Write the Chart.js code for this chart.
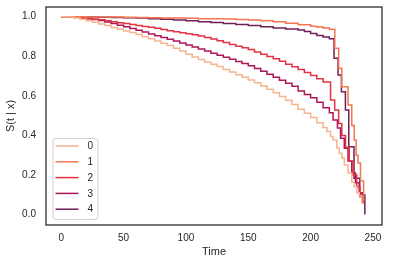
<!DOCTYPE html>
<html lang="en">
<head>
  <meta charset="UTF-8">
  <title>Survival curves S(t | x)</title>
  <script src="https://cdn.jsdelivr.net/npm/chart.js"></script>
  <style>
    body { margin: 0; background: #fff; }
    canvas { display: block; }
  </style>
</head>
<body>

  <canvas id="survChart" width="394" height="265"></canvas>

  <script>
    // step-post survival curves, one time/value pair of arrays per group
    const times0 = [0,5,10,15,20,25,30,35,40,45,50,55,60,65,70,75,80,85,90,95,100,105,110,115,120,125,130,135,140,145,150,155,160,165,170,175,180,185,190,195,200,205,210,213,216,218,221,223,225,227,230,233,235,237,239,241,242];
    const surv0  = [1.000,0.998,0.993,0.987,0.980,0.972,0.963,0.955,0.946,0.937,0.928,0.920,0.910,0.898,0.888,0.877,0.866,0.855,0.840,0.826,0.810,0.796,0.783,0.771,0.760,0.748,0.733,0.720,0.707,0.694,0.680,0.666,0.650,0.633,0.615,0.597,0.577,0.556,0.532,0.512,0.490,0.464,0.440,0.420,0.395,0.377,0.336,0.310,0.286,0.250,0.210,0.164,0.140,0.110,0.095,0.060,0.060];

    const times1 = [0,10,20,30,40,50,60,70,80,90,100,110,120,130,140,150,160,170,180,190,200,205,210,215,219.4,222.5,225,230,233,235,236.5,238,240,242.5,243];
    const surv1  = [1.000,1.000,0.999,0.999,0.998,0.997,0.996,0.995,0.994,0.993,0.992,0.990,0.989,0.988,0.986,0.983,0.979,0.974,0.967,0.959,0.952,0.948,0.943,0.937,0.840,0.739,0.646,0.554,0.450,0.377,0.300,0.260,0.170,0.070,0.070];

    const times2 = [0,5,10,15,20,25,30,35,40,45,50,55,60,65,70,75,80,85,90,95,100,105,110,115,120,125,130,135,140,145,150,155,160,165,170,175,180,185,190,195,200,205,210,216,219.3,222.5,225,228,231,234,237,239.5,242,243];
    const surv2  = [1.000,0.999,0.997,0.994,0.991,0.987,0.984,0.979,0.975,0.970,0.965,0.960,0.955,0.951,0.947,0.941,0.935,0.929,0.924,0.919,0.914,0.909,0.903,0.895,0.887,0.878,0.869,0.860,0.851,0.843,0.834,0.822,0.810,0.799,0.788,0.775,0.760,0.747,0.733,0.718,0.703,0.686,0.670,0.579,0.528,0.460,0.400,0.340,0.270,0.200,0.140,0.090,0.060,0.060];

    const times3 = [0,5,10,15,20,25,30,35,40,45,50,55,60,65,70,75,80,85,90,95,100,105,110,115,120,125,130,135,140,145,150,155,160,165,170,175,180,185,190,195,200,205,210,215,218,221.5,224,227,230,233,236,239,241.5,243];
    const surv3  = [1.000,0.999,0.997,0.994,0.990,0.986,0.981,0.973,0.965,0.957,0.949,0.940,0.931,0.922,0.913,0.904,0.895,0.886,0.877,0.867,0.857,0.847,0.837,0.826,0.815,0.805,0.795,0.785,0.774,0.763,0.752,0.738,0.724,0.709,0.694,0.679,0.664,0.648,0.624,0.607,0.590,0.567,0.540,0.515,0.478,0.437,0.385,0.335,0.270,0.210,0.160,0.110,0.070,0.070];

    const times4 = [0,10,20,30,40,50,60,70,80,90,100,110,120,130,140,150,160,170,180,190,195,200,205,210,215,218.8,222,224.7,227.9,230.6,234.8,239.4,243.5];
    const surv4  = [1.000,0.999,0.998,0.997,0.996,0.995,0.993,0.990,0.987,0.983,0.979,0.975,0.971,0.966,0.961,0.955,0.949,0.943,0.938,0.933,0.925,0.915,0.905,0.897,0.888,0.790,0.705,0.621,0.528,0.343,0.183,0.099,0.000];

    const seriesLabels = ['0', '1', '2', '3', '4'];
    const seriesColors = ['#f6b48f', '#f37651', '#e13342', '#ad1759', '#701f57'];
    const xTicks = [0, 50, 100, 150, 200, 250];
    const yTicks = [0, 0.2, 0.4, 0.6, 0.8, 1.0];

    const allTimes = [times0, times1, times2, times3, times4];
    const allSurv = [surv0, surv1, surv2, surv3, surv4];

    const FONT = '"Liberation Sans", Arial, sans-serif';
    const INK = '#262626';

    // dark box round the axes, drawn over the lines
    const frame = {
      id: 'frame',
      afterDatasetsDraw(chart) {
        const { ctx, chartArea: a } = chart;
        ctx.save();
        ctx.strokeStyle = INK;
        ctx.lineWidth = 1.25;
        ctx.strokeRect(a.left, a.top, a.right - a.left, a.bottom - a.top);
        ctx.restore();
      }
    };

    // legend box in the lower left corner of the axes
    const innerLegend = {
      id: 'innerLegend',
      afterDraw(chart) {
        const { ctx, chartArea: a } = chart;
        const w = 45, h = 81;
        const x = a.left + 6.5, y = a.bottom - 6 - h;
        ctx.save();
        ctx.beginPath();
        ctx.roundRect(x + 0.5, y + 0.5, w, h, 3);
        ctx.fillStyle = 'rgba(255,255,255,0.8)';
        ctx.fill();
        ctx.strokeStyle = '#d0d0d0';
        ctx.lineWidth = 1;
        ctx.stroke();
        ctx.font = '10px ' + FONT;
        ctx.textBaseline = 'middle';
        ctx.textAlign = 'left';
        chart.data.datasets.forEach((ds, i) => {
          const ry = y + 8 + i * 15.8;
          ctx.strokeStyle = ds.borderColor;
          ctx.lineWidth = 1.5;
          ctx.beginPath();
          ctx.moveTo(x + 3, ry);
          ctx.lineTo(x + 26, ry);
          ctx.stroke();
          ctx.fillStyle = INK;
          ctx.fillText(ds.label, x + 35, ry + 0.5);
        });
        ctx.restore();
      }
    };

    const datasets = seriesLabels.map((label, i) => ({
      label,
      data: allTimes[i].map((t, j) => ({ x: t, y: allSurv[i][j] })),
      borderColor: seriesColors[i],
      backgroundColor: seriesColors[i],
      borderWidth: 1.5,
      pointRadius: 0,
      stepped: true,
      fill: false
    }));

    const ctx = document.getElementById('survChart').getContext('2d');
    new Chart(ctx, {
      type: 'line',
      data: { datasets },
      options: {
        responsive: false,
        animation: false,
        layout: { padding: { left: 0, top: 7, right: 12, bottom: 0 } },
        plugins: {
          legend: { display: false },
          tooltip: { enabled: false }
        },
        scales: {
          x: {
            type: 'linear',
            min: -12.25,
            max: 257.25,
            afterBuildTicks: axis => { axis.ticks = xTicks.map(v => ({ value: v })); },
            afterFit: axis => {
              axis.height = 40;
              axis.paddingLeft = 0;
              axis.paddingRight = 0;
            },
            grid: { display: false, drawTicks: false },
            border: { display: false },
            ticks: { color: INK, font: { family: FONT, size: 10 }, padding: 7, maxRotation: 0 },
            title: {
              display: true, text: 'Time', color: INK,
              font: { family: FONT, size: 11 }, padding: { top: 0, bottom: 6 }
            }
          },
          y: {
            min: -0.053,
            max: 1.049,
            afterBuildTicks: axis => { axis.ticks = yTicks.map(v => ({ value: v })); },
            afterFit: axis => {
              axis.width = 46;
              axis.paddingTop = 0;
              axis.paddingBottom = 0;
            },
            grid: { display: false, drawTicks: false },
            border: { display: false },
            ticks: {
              color: INK, font: { family: FONT, size: 10 }, padding: 10,
              callback: v => v.toFixed(1)
            },
            title: {
              display: true, text: 'S(t | x)', color: INK,
              font: { family: FONT, size: 11 }, padding: { top: 4, bottom: 0 }
            }
          }
        }
      },
      plugins: [frame, innerLegend]
    });
  </script>

</body>
</html>
